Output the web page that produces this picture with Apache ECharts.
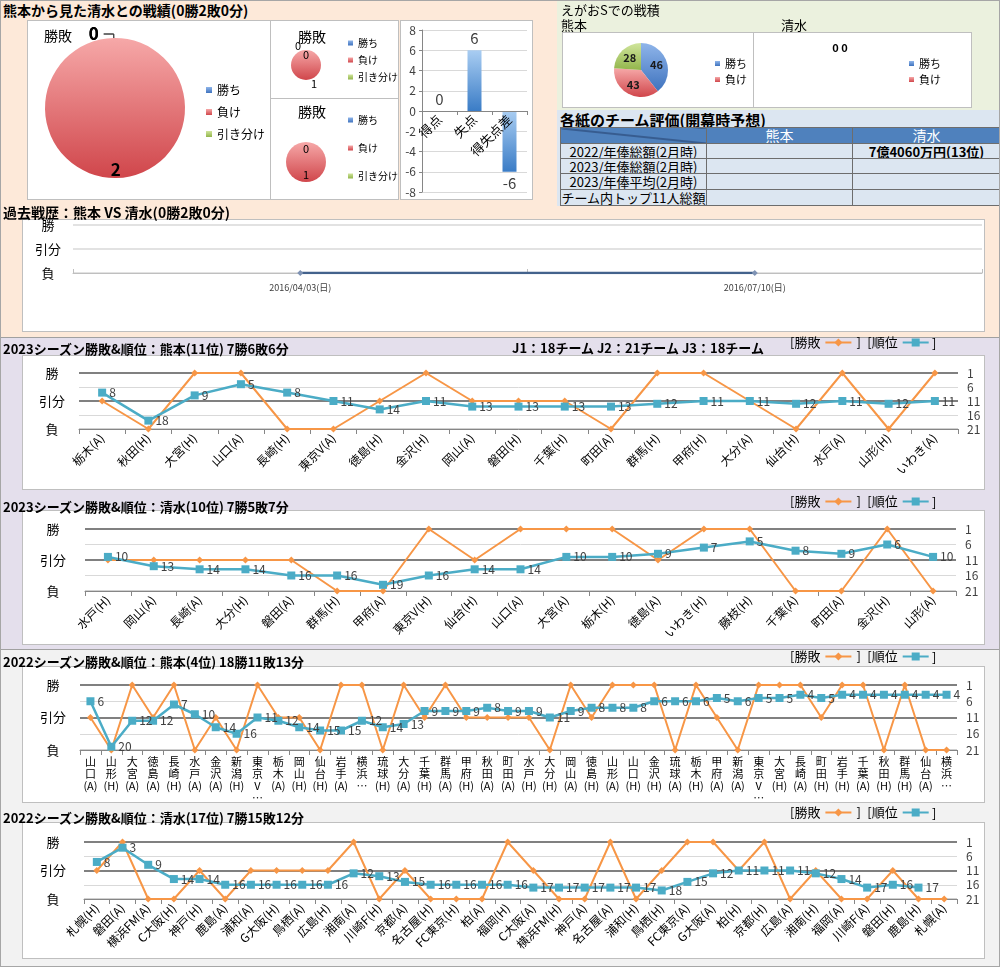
<!DOCTYPE html>
<html><head><meta charset="utf-8">
<script src="https://cdn.jsdelivr.net/npm/echarts/dist/echarts.min.js"></script>
<style>
html,body{margin:0;padding:0;}
body{width:1000px;height:967px;position:relative;overflow:hidden;font-family:'Noto Sans CJK JP','Noto Sans',sans-serif;background:#fff;}
.bg{position:absolute;}
.box{position:absolute;background:#fff;border:1px solid #bfbfbf;box-sizing:border-box;}
.ttl{position:absolute;font-weight:bold;font-size:13px;line-height:14px;white-space:nowrap;color:#000;z-index:5;}
.txt{position:absolute;font-size:13px;line-height:14px;white-space:nowrap;color:#000;z-index:5;}
.ch{position:absolute;z-index:3;}
#tbl{position:absolute;left:560px;top:127px;width:440px;border-collapse:collapse;font-size:13px;z-index:5;table-layout:fixed;}
#tbl td{border:1px solid #6d6d6d;padding:0;text-align:center;line-height:13px;background:#dce6f1;white-space:nowrap;overflow:hidden;}
#tbl tr.hd td{background:#4f81bd;color:#fff;font-size:14px;}
</style></head><body>
<div class="bg" style="left:0;top:0;width:1000px;height:338px;background:#fde9d9"></div>
<div class="bg" style="left:557px;top:0;width:443px;height:110px;background:#ebf1de"></div>
<div class="bg" style="left:557px;top:110px;width:443px;height:96px;background:#dce6f1"></div>
<div class="bg" style="left:0;top:337px;width:1000px;height:312px;background:#e4dfec;border-top:1px solid #a0a0a0"></div>
<div class="bg" style="left:0;top:649px;width:1000px;height:318px;background:#f2f2f2;border-top:1px solid #a0a0a0"></div>
<div class="bg" style="left:0;top:0;width:998px;height:965px;border:1px solid #a6a6a6;z-index:6;pointer-events:none"></div>

<div class="box" style="left:27px;top:20px;width:244px;height:180px"></div>
<div class="box" style="left:270px;top:20px;width:129px;height:79px"></div>
<div class="box" style="left:270px;top:98px;width:129px;height:102px"></div>
<div class="box" style="left:400px;top:20px;width:133px;height:180px"></div>
<div class="box" style="left:562px;top:32px;width:192px;height:76px"></div>
<div class="box" style="left:753px;top:32px;width:219px;height:76px"></div>
<div class="box" style="left:22px;top:219px;width:963px;height:113px"></div>
<div class="box" style="left:22px;top:355px;width:963px;height:135px"></div>
<div class="box" style="left:22px;top:510px;width:963px;height:135px"></div>
<div class="box" style="left:22px;top:666px;width:963px;height:137px"></div>
<div class="box" style="left:22px;top:822px;width:963px;height:137px"></div>

<div id="pieMain" class="ch" style="left:27px;top:20px;width:243px;height:180px"></div>
<div id="pie1" class="ch" style="left:270px;top:20px;width:128px;height:78px"></div>
<div id="pie2" class="ch" style="left:270px;top:98px;width:128px;height:102px"></div>
<div id="bar" class="ch" style="left:400px;top:20px;width:133px;height:180px"></div>
<div id="egaoK" class="ch" style="left:562px;top:32px;width:191px;height:76px"></div>
<div id="egaoS" class="ch" style="left:754px;top:32px;width:218px;height:76px"></div>
<div id="past" class="ch" style="left:22px;top:219px;width:963px;height:113px"></div>
<div id="k23" class="ch" style="left:0;top:336px;width:1000px;height:154px"></div>
<div id="s23" class="ch" style="left:0;top:495px;width:1000px;height:150px"></div>
<div id="k22" class="ch" style="left:0;top:650px;width:1000px;height:153px"></div>
<div id="s22" class="ch" style="left:0;top:806px;width:1000px;height:153px"></div>

<div class="ttl" style="left:3px;top:3px;font-size:14px">熊本から見た清水との戦績(0勝2敗0分)</div>
<div class="txt" style="left:561px;top:3px">えがおSでの戦積</div>
<div class="txt" style="left:561px;top:18px">熊本</div>
<div class="txt" style="left:781px;top:18px">清水</div>
<div class="ttl" style="left:560px;top:112px;font-size:15px;line-height:16px">各紙のチーム評価(開幕時予想)</div>
<div class="ttl" style="left:3px;top:205px;font-size:14px">過去戦歴：熊本 VS 清水(0勝2敗0分)</div>
<div class="ttl" style="left:3px;top:342px">2023シーズン勝敗&amp;順位：熊本(11位) 7勝6敗6分</div>
<div class="ttl" style="left:512px;top:341px">J1：18チーム J2：21チーム J3：18チーム</div>
<div class="ttl" style="left:3px;top:500px">2023シーズン勝敗&amp;順位：清水(10位) 7勝5敗7分</div>
<div class="ttl" style="left:3px;top:655px">2022シーズン勝敗&amp;順位：熊本(4位) 18勝11敗13分</div>
<div class="ttl" style="left:3px;top:811px">2022シーズン勝敗&amp;順位：清水(17位) 7勝15敗12分</div>
<table id="tbl"></table>

<script>
// ===== DATA =====
const outcomeNames = ['勝ち', '負け', '引き分け'];
const h2hTotal = [0, 2, 0];
const h2hPie1 = [0, 1, 0];
const h2hPie2 = [0, 1, 0];
const goalCats = ['得点', '失点', '得失点差'];
const goalVals = [0, 6, -6];
const egaoKumamoto = [46, 43, 28];
const egaoShimizu = [0, 0];
const tableHeader = ['熊本', '清水'];
const tableRows = ['2022/年俸総額(2月時)', '2023/年俸総額(2月時)', '2023/年俸平均(2月時)', 'チーム内トップ11人総額'];
const tableKumamoto = ['', '', '', ''];
const tableShimizu = ['7億4060万円(13位)', '', '', ''];
const pastDates = ['2016/04/03(日)', '2016/07/10(日)'];
const pastResults = ['L', 'L'];

const k23Cats = ['栃木(A)','秋田(H)','大宮(H)','山口(A)','長崎(H)','東京V(A)','徳島(H)','金沢(H)','岡山(A)','磐田(H)','千葉(H)','町田(A)','群馬(H)','甲府(H)','大分(A)','仙台(H)','水戸(A)','山形(H)','いわき(A)'];
const k23Res = ['D','L','W','W','L','L','D','W','D','D','D','L','W','W','D','L','W','L','W'];
const k23Rank = [8,18,9,5,8,11,14,11,13,13,13,13,12,11,11,12,11,12,11];

const s23Cats = ['水戸(H)','岡山(A)','長崎(A)','大分(H)','磐田(A)','群馬(H)','甲府(A)','東京V(H)','仙台(H)','山口(A)','大宮(A)','栃木(H)','徳島(A)','いわき(H)','藤枝(H)','千葉(A)','町田(A)','金沢(H)','山形(A)'];
const s23Res = ['D','D','D','D','D','L','L','W','D','W','W','W','D','W','W','L','L','W','L'];
const s23Rank = [10,13,14,14,16,16,19,16,14,14,10,10,9,7,5,8,9,6,10];

const k22Cats = ['山口(A)','山形(H)','大宮(A)','徳島(A)','長崎(H)','水戸(A)','金沢(A)','新潟(H)','東京V…','栃木(A)','岡山(H)','仙台(H)','岩手(A)','横浜…','琉球(H)','大分(A)','千葉(H)','群馬(A)','甲府(H)','秋田(A)','町田(A)','水戸(H)','大分(H)','岡山(A)','徳島(H)','山形(A)','山口(H)','金沢(H)','琉球(A)','栃木(H)','甲府(A)','新潟(A)','東京V…','大宮(H)','長崎(A)','町田(H)','岩手(H)','千葉(A)','秋田(H)','群馬(H)','仙台(A)','横浜…'];
const k22Res = ['D','L','W','D','W','L','D','L','W','D','D','L','W','W','L','W','D','W','D','D','D','D','L','W','D','W','W','W','L','W','D','L','W','W','W','D','W','W','L','W','L','L'];
const k22Rank = [6,20,12,12,7,10,14,16,11,12,14,15,15,12,14,13,9,9,9,8,9,9,11,9,8,8,8,6,6,6,5,6,5,5,4,5,4,4,4,4,4,4];

const s22Cats = ['札幌(H)','磐田(A)','横浜FM(A)','C大阪(H)','神戸(H)','鹿島(A)','浦和(A)','G大阪(H)','鳥栖(A)','広島(H)','湘南(A)','川崎F(H)','京都(A)','名古屋(H)','FC東京(H)','柏(A)','福岡(H)','C大阪(A)','横浜FM(H)','神戸(A)','名古屋(A)','浦和(H)','鳥栖(H)','FC東京(A)','G大阪(A)','柏(H)','京都(H)','広島(A)','湘南(H)','福岡(A)','川崎F(A)','磐田(H)','鹿島(H)','札幌(A)'];
const s22Res = ['D','W','L','L','D','L','D','D','D','D','W','L','D','L','L','L','W','D','L','L','W','L','D','W','W','D','W','L','D','L','L','D','L','L'];
const s22Rank = [8,3,9,14,14,16,16,16,16,16,12,13,15,16,16,16,16,17,17,17,17,17,18,15,12,11,11,11,12,14,17,16,17,null];

const rankTicks = { 1: '勝', 11: '引分', 21: '負' };
const resultLevel = { W: 1, D: 11, L: 21 };
const pastLevel = { W: 2, D: 1, L: 0 };
const pastTicks = ['負', '引分', '勝'];

// ===== STYLE / BUILD =====
const FONT = "'Noto Sans CJK JP','Noto Sans',sans-serif";
const lg = (a, b) => new echarts.graphic.LinearGradient(0, 0, 0, 1, [{offset: 0, color: a}, {offset: 1, color: b}]);
const PIE_COLORS = [lg('#8fb5ea', '#3f73be'), lg('#f6a8a8', '#d0464b'), lg('#d0e59c', '#92b54b')];

// table
(function(){
  const t = document.getElementById('tbl');
  let h = '<colgroup><col style="width:146px"><col style="width:146px"><col style="width:148px"></colgroup>';
  h += '<tr class="hd" style="height:16px"><td style="background:#4f81bd linear-gradient(to top right, transparent calc(50% - 1px), #1f3864 50%, transparent calc(50% + 1px))"></td>';
  tableHeader.forEach(n => h += '<td>' + n + '</td>');
  h += '</tr>';
  tableRows.forEach((r, i) => {
    h += '<tr style="height:' + (i < 2 ? 15 : 16) + 'px"><td>' + r + '</td><td>' + tableKumamoto[i] + '</td><td style="font-weight:bold">' + tableShimizu[i] + '</td></tr>';
  });
  t.innerHTML = h;
})();

function mk(id, opt) {
  const c = echarts.init(document.getElementById(id), null, {renderer: 'canvas'});
  opt.textStyle = {fontFamily: FONT};
  opt.animation = false;
  if (opt.grid) opt.grid.outerBoundsMode = 'none';
  c.setOption(opt);
  return c;
}

// main pie
mk('pieMain', {
  title: {text: '勝敗', left: 12, top: 4, textStyle: {fontSize: 14, fontWeight: 'normal', color: '#000', fontFamily: FONT}},
  legend: {orient: 'vertical', left: 174, top: 59, icon: 'rect', itemWidth: 6, itemHeight: 6, itemGap: 10,
    textStyle: {fontSize: 12, color: '#000', fontFamily: FONT}, data: outcomeNames},
  series: [{
    type: 'pie', center: [88, 88], radius: [0, 70], startAngle: 91, avoidLabelOverlap: false, silent: true,
    data: outcomeNames.map((n, i) => ({
      name: n, value: h2hTotal[i], itemStyle: {color: PIE_COLORS[i]},
      label: {position: h2hTotal[i] === 0 ? 'outside' : 'inside'},
      labelLine: {show: h2hTotal[i] === 0}
    })),
    label: {show: true, formatter: '{c}', fontSize: 17, fontWeight: 'bold', color: '#000'},
    labelLine: {length: 4, length2: 10, lineStyle: {color: '#404040', width: 1}},
    labelLayout: p => (p.dataIndex === 1 ? {dy: 24} : {})
  }]
});

function smallPie(id, vals, cy, r, titleTop, legendPos, mode) {
  mk(id, {
    title: {text: '勝敗', left: 37, top: titleTop, textAlign: 'center', textStyle: {fontSize: 14, fontWeight: 'normal', color: '#000', fontFamily: FONT}},
    legend: {orient: 'vertical', left: 73, top: legendPos[0], icon: 'rect', itemWidth: 5, itemHeight: 5, itemGap: legendPos[1],
      textStyle: {fontSize: 10, color: '#000', fontFamily: FONT}, data: outcomeNames},
    series: [{
      type: 'pie', center: [36, cy], radius: [0, r], startAngle: 90, avoidLabelOverlap: false, silent: true,
      data: outcomeNames.map((n, i) => ({
        name: n, value: vals[i], itemStyle: {color: PIE_COLORS[i]},
        label: {position: mode === 'inside' ? 'inside' : (i === 2 ? 'inside' : 'outside')}
      })),
      label: {show: true, formatter: '{c}', fontSize: 11, color: '#000'},
      labelLine: {show: false, length: 4, length2: 0}
    }]
  });
}
smallPie('pie1', h2hPie1, 45, 15, 5, [13, 7], 'mixed');
smallPie('pie2', h2hPie2, 64, 20, 2, [12, 18], 'inside');

// goals bar
mk('bar', {
  grid: {left: 22, right: 6, top: 10, bottom: 8},
  xAxis: {type: 'category', data: goalCats, offset: -81, z: 5,
    axisLine: {onZero: false, lineStyle: {color: '#868686'}},
    axisTick: {show: true, length: 4, lineStyle: {color: '#868686'}},
    axisLabel: {rotate: 45, fontSize: 13, color: '#000', margin: 6, interval: 0}},
  yAxis: {type: 'value', min: -8, max: 8, interval: 2,
    axisLabel: {fontSize: 12, color: '#404040', margin: 6},
    axisLine: {show: true, lineStyle: {color: '#868686'}}, axisTick: {show: true, length: 3},
    splitLine: {lineStyle: {color: '#d9d9d9'}}},
  series: [{type: 'bar', barWidth: '40%', silent: true,
    data: goalVals.map(v => ({value: v, label: {position: v < 0 ? 'bottom' : 'top'}})),
    itemStyle: {color: lg('#a9cdf2', '#3a7cc6')},
    label: {show: true, fontSize: 15, color: '#404040', distance: 4}}]
});

// egao S pies
mk('egaoK', {
  legend: {orient: 'vertical', left: 148, top: 21, icon: 'rect', itemWidth: 5, itemHeight: 5, itemGap: 5,
    textStyle: {fontSize: 11, color: '#000', fontFamily: FONT}, data: outcomeNames.slice(0, 2)},
  series: [{type: 'pie', center: [79, 38], radius: [0, 27], startAngle: 90, silent: true,
    data: outcomeNames.map((n, i) => ({name: n, value: egaoKumamoto[i], itemStyle: {color: PIE_COLORS[i]}})),
    label: {show: true, position: 'inside', formatter: '{c}', fontSize: 11, fontWeight: 'bold', color: '#1a1a1a'},
    labelLine: {show: false}}]
});
mk('egaoS', {
  title: {text: egaoShimizu.join(' '), left: 81, top: 5, textAlign: 'center', textStyle: {fontSize: 11, fontWeight: 'bold', color: '#000', fontFamily: FONT}},
  legend: {orient: 'vertical', left: 150, top: 21, icon: 'rect', itemWidth: 5, itemHeight: 5, itemGap: 5,
    textStyle: {fontSize: 11, color: '#000', fontFamily: FONT}, data: outcomeNames.slice(0, 2)},
  series: [{type: 'pie', center: [81, 38], radius: [0, 27], startAngle: 90, silent: true,
    stillShowZeroSum: false, showEmptyCircle: false,
    data: outcomeNames.slice(0, 2).map((n, i) => ({name: n, value: egaoShimizu[i], itemStyle: {color: PIE_COLORS[i]}})),
    label: {show: false}, labelLine: {show: false}}]
});

// past record
mk('past', {
  grid: {left: 51, right: 3, top: 6, height: 48},
  xAxis: {type: 'category', data: pastDates, boundaryGap: true,
    axisLine: {lineStyle: {color: '#bfbfbf'}}, axisTick: {show: true, inside: true, length: 4, lineStyle: {color: '#bfbfbf'}},
    axisLabel: {fontSize: 9, color: '#404040', margin: 10}},
  yAxis: {type: 'value', min: 0, max: 2, interval: 1,
    axisLine: {show: false}, axisTick: {show: false},
    axisLabel: {formatter: v => pastTicks[v], fontSize: 13, color: '#000', align: 'center', margin: 25},
    splitLine: {lineStyle: {color: '#d9d9d9', width: 1.5}}},
  series: [{type: 'line', data: pastResults.map(r => pastLevel[r]), symbol: 'diamond', symbolSize: 6, silent: true,
    lineStyle: {color: '#43628c', width: 2.5}, itemStyle: {color: '#7f93b4'}}]
});

// seasons
function vertical(name) {
  const m = name.match(/^(.*?)(\([AH]\))?$/);
  const parts = [...m[1]];
  if (m[2]) parts.push(m[2]);
  return parts.join('\n');
}
function season(id, cats, res, rank, o) {
  mk(id, {
    legend: {left: 785, top: -5, align: 'right', itemWidth: 26, itemHeight: 10, itemGap: 4,
      textStyle: {fontSize: 13, color: '#000', fontFamily: FONT},
      formatter: n => (n === '勝敗' ? '[勝敗' : ']\u2002[順位'), data: ['勝敗', '順位']},
    graphic: [{type: 'text', left: 932, top: 1, style: {text: ']', font: '13px ' + FONT, fill: '#000'}}],
    grid: {left: o.left, right: o.right, top: o.top, height: o.height},
    xAxis: {type: 'category', data: cats, boundaryGap: true,
      axisLine: {onZero: false, lineStyle: {color: '#868686'}},
      axisTick: {show: true, length: 5, interval: 0, lineStyle: {color: '#868686'}},
      axisLabel: o.vertical
        ? {interval: 0, formatter: vertical, fontSize: 11, lineHeight: 12, color: '#000', margin: 6}
        : {interval: 0, rotate: 45, fontSize: 12, color: '#000', margin: 7}},
    yAxis: [
      {type: 'value', inverse: true, min: 1, max: 21, interval: 10,
        axisLine: {show: false}, axisTick: {show: false},
        axisLabel: {formatter: v => rankTicks[v], align: 'center', margin: o.lm, fontSize: 13, color: '#000'},
        splitLine: {show: true, lineStyle: {color: ['#808080', '#808080', '#d0d0d0'], width: 2}}},
      {type: 'value', inverse: true, min: 1, max: 21, interval: 5, position: 'right',
        axisLine: {show: false}, axisTick: {show: false},
        axisLabel: {fontSize: 12, color: '#404040', margin: 9},
        splitLine: {show: true, lineStyle: {color: ['rgba(0,0,0,0)', '#d9d9d9', 'rgba(0,0,0,0)', '#d9d9d9', '#d9d9d9'], width: 1}}}
    ],
    series: [
      {name: '勝敗', type: 'line', yAxisIndex: 1, data: res.map(r => resultLevel[r]), silent: true,
        symbol: 'diamond', symbolSize: 7, lineStyle: {width: 2, color: '#f79646'}, itemStyle: {color: '#f79646'}},
      {name: '順位', type: 'line', yAxisIndex: 1, data: rank, silent: true,
        symbol: 'rect', symbolSize: 8, lineStyle: {width: 2.5, color: '#4bacc6'}, itemStyle: {color: '#4bacc6'},
        label: {show: true, position: 'right', distance: 3, fontSize: 12, color: '#404040'}}
    ]
  });
}
season('k23', k23Cats, k23Res, k23Rank, {left: 79, right: 42, top: 37, height: 56, lm: 27});
season('s23', s23Cats, s23Res, s23Rank, {left: 85, right: 44, top: 34, height: 62, lm: 32});
season('k22', k22Cats, k22Res, k22Rank, {left: 80, right: 43, top: 35, height: 65, lm: 27, vertical: true});
season('s22', s22Cats, s22Res, s22Rank, {left: 84, right: 43, top: 36, height: 57, lm: 31});
</script>
</body></html>
